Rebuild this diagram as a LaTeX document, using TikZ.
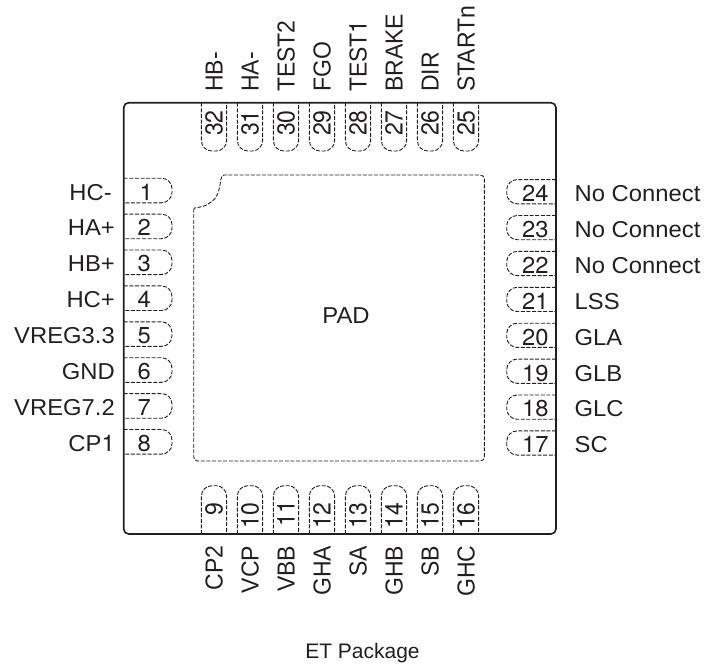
\documentclass[tikz,border=0pt]{standalone}
\usepackage{graphicx}
\usepackage{fontspec}
\setmainfont{Liberation Sans}
\newfontfamily\hv{TeX Gyre Heros}
\definecolor{ink}{HTML}{231F20}
\newcommand{\hs}[1]{\scalebox{1.035}[1]{#1}}
\newcommand{\vs}[1]{\scalebox{1}[1.07]{#1}}
\tikzset{
  px/.style={x=1pt,y=-1pt},
  body/.style={draw=ink,line width=1.6pt,rounded corners=5pt},
  dashline/.style={draw=ink,line width=0.9pt,dash pattern=on 4pt off 1.6pt},
  pinline/.style={dashline,rounded corners=10.5pt},
  num/.style={font=\hv\fontsize{23}{24}\selectfont,text=ink,inner sep=0pt},
  lab/.style={font=\fontsize{23}{24}\selectfont,text=ink,inner sep=0pt},
}
\newcommand{\leftpin}[3]{%
  \draw[pinline] (123.7,#1-12.3) -- (172,#1-12.3) -- (172,#1+12.3) -- (123.7,#1+12.3);
  \node[num,anchor=base east] (n#2) at (#3,#1+9.5) {\hs{#2}};}
\newcommand{\rightpin}[2]{%
  \draw[pinline] (556,#1-12.1) -- (506.7,#1-12.1) -- (506.7,#1+12.1) -- (556,#1+12.1);
  \node[num,anchor=base west] (n#2) at (522,#1+9.8) {\hs{#2}};}
\newcommand{\toppin}[2]{%
  \draw[pinline] (#1-12.6,102.7) -- (#1-12.6,151) -- (#1+12.6,151) -- (#1+12.6,102.7);
  \node[num,rotate=90,anchor=base] (n#2) at (#1+8.7,123) {\vs{#2}};}
\newcommand{\botpin}[3]{%
  \draw[pinline] (#1-12.6,534) -- (#1-12.6,485.7) -- (#1+12.6,485.7) -- (#1+12.6,534);
  \node[num,rotate=90,anchor=base east] (n#2) at (#1+8.7,#3) {\vs{#2}};}
\begin{document}
\begin{tikzpicture}[px]
\useasboundingbox (0,0) rectangle (704,665);
\draw[body] (123.7,102.7) rectangle (556,534);
% exposed pad with its chamfered corner
\draw[dashline,rounded corners=4pt] (193.7,214)
  .. controls (193.7,209) and (195,208) .. (198,207.5)
  .. controls (209,205) and (216,199) .. (219,190)
  .. controls (220.5,183) and (220.5,175) .. (228,175)
  -- (484.3,175) -- (484.3,461) -- (193.7,461) -- cycle;
\node[lab,anchor=base] (pad) at (346,323.3) {\hs{PAD}};
% left
\foreach \y/\n/\t/\nx/\lx in {190.5/1/HC-/153/112,226.4/2/HA+/151/115,262.3/3/HB+/151/115,298.2/4/HC+/151/115,334.1/5/VREG3.3/151/115,370/6/GND/151/115,405.9/7/VREG7.2/151/115,441.8/8/{CP{\hv 1}}/151/115}{
  \leftpin{\y}{\n}{\nx}
  \node[lab,anchor=base east] (l\n) at (\lx,\y+9.5) {\hs{\t}};
}
% right
\foreach \y/\n/\t in {191.7/24/No Connect,227.6/23/No Connect,263.5/22/No Connect,299.4/21/LSS,335.3/20/GLA,371.2/19/GLB,407.1/18/GLC,443/17/SC}{
  \rightpin{\y}{\n}
  \node[lab,anchor=base west] (l\n) at (574.5,\y+9.8) {\hs{\t}};
}
% top
\foreach \x/\n/\t in {214/32/HB-,250/31/HA-,286/30/TEST2,322/29/FGO,358/28/{TEST{\hv 1}},394/27/BRAKE,430/26/DIR,466/25/STARTn}{
  \toppin{\x}{\n}
  \node[lab,rotate=90,anchor=base west] (l\n) at (\x+8.7,92) {\vs{\t}};
}
% bottom
\foreach \x/\n/\t/\ny in {214/9/CP2/502.5,250/10/VCP/502.5,286/11/VBB/500.5,322/12/GHA/502.5,358/13/SA/502.5,394/14/GHB/502.5,430/15/SB/502.5,466/16/GHC/502.5}{
  \botpin{\x}{\n}{\ny}
  \node[lab,rotate=90,anchor=base east] (l\n) at (\x+8.7,545.5) {\vs{\t}};
}
\node[font=\fontsize{21}{22}\selectfont,text=ink,inner sep=0pt,anchor=base] (cap) at (362.5,658) {ET Package};
\end{tikzpicture}
\end{document}
